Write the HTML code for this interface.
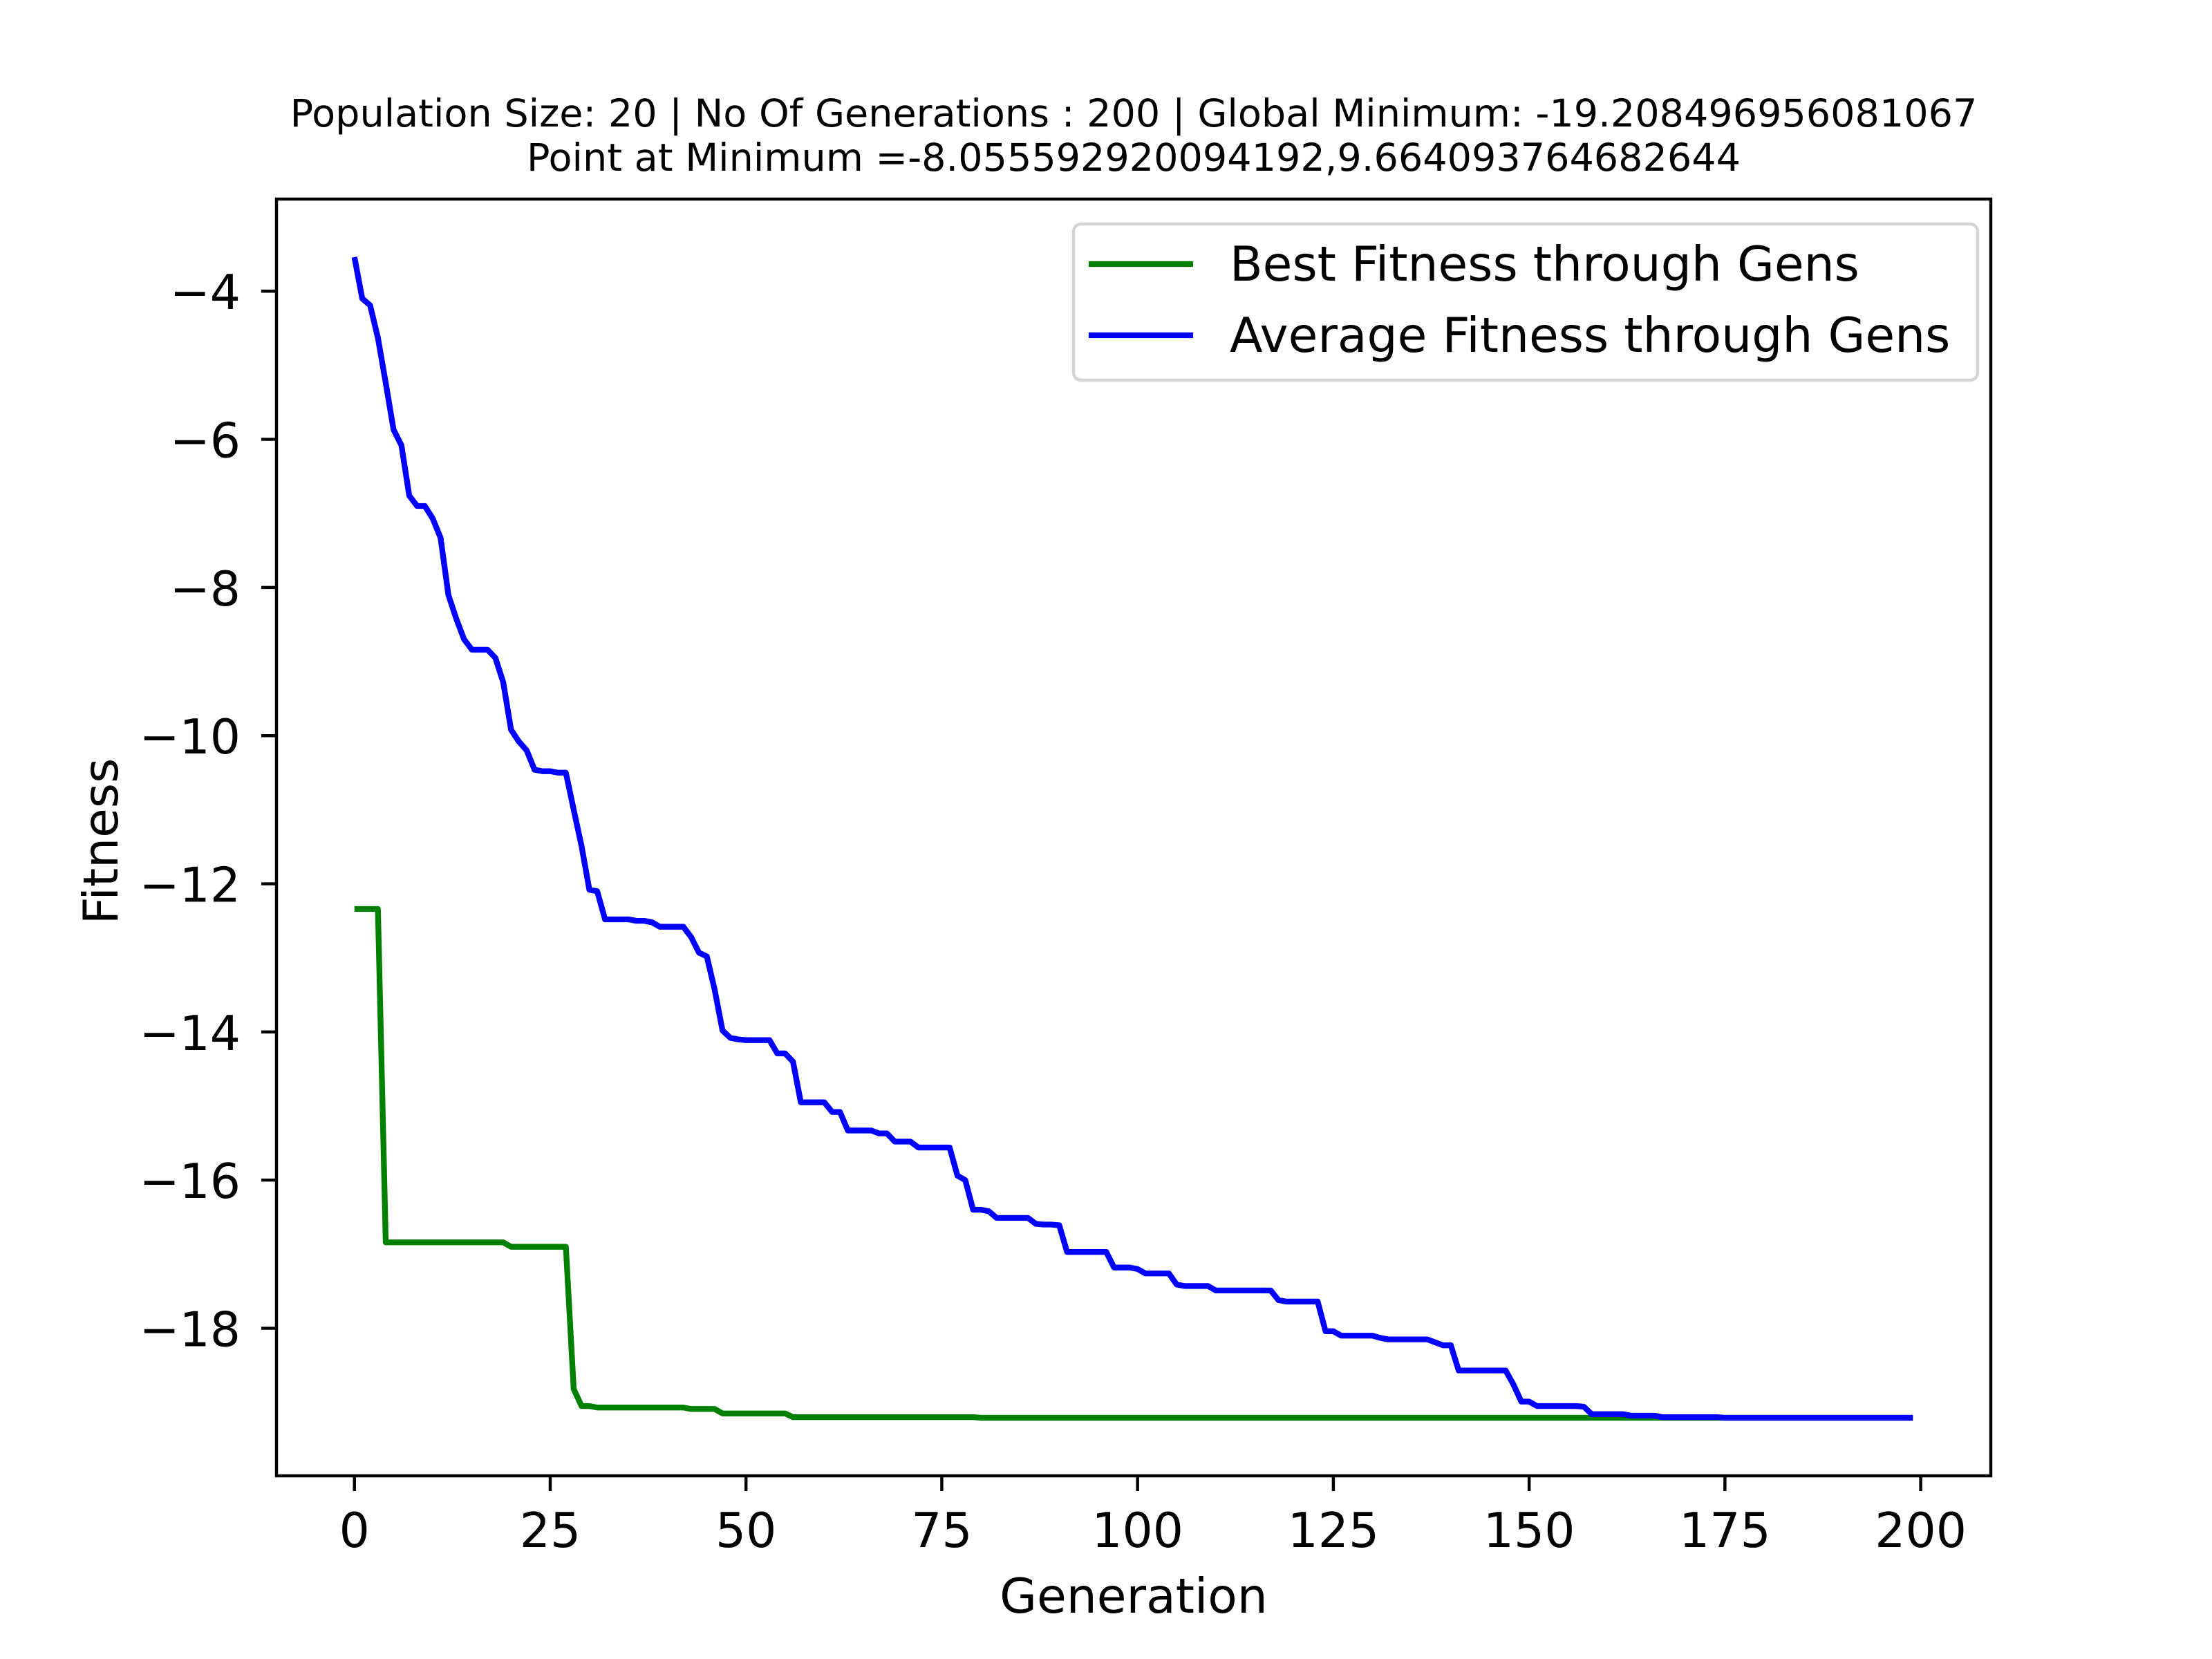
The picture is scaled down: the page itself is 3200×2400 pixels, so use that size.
<!DOCTYPE html>
<html><head><meta charset="utf-8"><style>
html,body{margin:0;padding:0;background:#fff}
svg{display:block;font-family:"DejaVu Sans","Liberation Sans",sans-serif}
</style></head><body>
<svg id="chart" width="3200" height="2400" viewBox="0 0 3200 2400" xmlns="http://www.w3.org/2000/svg">
<rect width="3200" height="2400" fill="#fff"/>
<text x="1640" y="183" font-size="55.6" text-anchor="middle">Population Size: 20 | No Of Generations : 200 | Global Minimum: -19.208496956081067</text>
<text x="1640" y="247" font-size="55.6" text-anchor="middle">Point at Minimum =-8.055592920094192,9.664093764682644</text>
<g id="plot"></g>
<rect x="400" y="288" width="2480" height="1847" fill="none" stroke="#000" stroke-width="4.44"/>
<g id="ticks"></g>
<text x="1640" y="2333" font-size="69.5" text-anchor="middle">Generation</text>
<text x="0" y="0" font-size="69.5" text-anchor="middle" transform="translate(170,1217) rotate(-90)">Fitness</text>
<g>
<rect x="1553" y="324" width="1308" height="226" rx="11" fill="#fff" fill-opacity="0.8" stroke="#d4d4d4" stroke-width="4.44"/>
<line x1="1575" y1="382" x2="1726" y2="382" stroke="#008000" stroke-width="8.33"/>
<text x="1779" y="406" font-size="69.5">Best Fitness through Gens</text>
<line x1="1575" y1="485" x2="1726" y2="485" stroke="#0000ff" stroke-width="8.33"/>
<text x="1779" y="509" font-size="69.5">Average Fitness through Gens</text>
</g>
</svg>
<script>
const avgFitness = [
-3.54,-4.1,-4.19,-4.63,-5.24,-5.87,-6.08,-6.76,-6.9,-6.9,
-7.07,-7.33,-8.1,-8.42,-8.7,-8.84,-8.84,-8.84,-8.95,-9.28,
-9.92,-10.08,-10.2,-10.46,-10.48,-10.48,-10.5,-10.5,-11.0,-11.49,
-12.08,-12.1,-12.48,-12.48,-12.48,-12.48,-12.5,-12.5,-12.52,-12.58,
-12.58,-12.58,-12.58,-12.72,-12.93,-12.98,-13.43,-13.98,-14.08,-14.1,
-14.11,-14.11,-14.11,-14.11,-14.29,-14.29,-14.4,-14.95,-14.95,-14.95,
-14.95,-15.08,-15.08,-15.33,-15.33,-15.33,-15.33,-15.37,-15.37,-15.48,
-15.48,-15.48,-15.56,-15.56,-15.56,-15.56,-15.56,-15.94,-16.0,-16.4,
-16.4,-16.42,-16.51,-16.51,-16.51,-16.51,-16.51,-16.59,-16.6,-16.6,
-16.61,-16.97,-16.97,-16.97,-16.97,-16.97,-16.97,-17.18,-17.18,-17.18,
-17.2,-17.26,-17.26,-17.26,-17.26,-17.41,-17.43,-17.43,-17.43,-17.43,
-17.49,-17.49,-17.49,-17.49,-17.49,-17.49,-17.49,-17.49,-17.62,-17.64,
-17.64,-17.64,-17.64,-17.64,-18.04,-18.04,-18.1,-18.1,-18.1,-18.1,
-18.1,-18.13,-18.15,-18.15,-18.15,-18.15,-18.15,-18.15,-18.19,-18.23,
-18.23,-18.57,-18.57,-18.57,-18.57,-18.57,-18.57,-18.57,-18.76,-18.99,
-18.99,-19.05,-19.05,-19.05,-19.05,-19.05,-19.05,-19.06,-19.16,-19.16,
-19.16,-19.16,-19.16,-19.18,-19.18,-19.18,-19.18,-19.2,-19.2,-19.2,
-19.2,-19.2,-19.2,-19.2,-19.2,-19.2085,-19.2085,-19.2085,-19.2085,-19.2085,
-19.2085,-19.2085,-19.2085,-19.2085,-19.2085,-19.2085,-19.2085,-19.2085,-19.2085,-19.2085,
-19.2085,-19.2085,-19.2085,-19.2085,-19.2085,-19.2085,-19.2085,-19.2085,-19.2085,-19.2085
];
const bestFitness = [
-12.34,-12.34,-12.34,-12.34,-16.84,-16.84,-16.84,-16.84,-16.84,-16.84,
-16.84,-16.84,-16.84,-16.84,-16.84,-16.84,-16.84,-16.84,-16.84,-16.84,
-16.9,-16.9,-16.9,-16.9,-16.9,-16.9,-16.9,-16.9,-18.82,-19.05,
-19.05,-19.07,-19.07,-19.07,-19.07,-19.07,-19.07,-19.07,-19.07,-19.07,
-19.07,-19.07,-19.07,-19.09,-19.09,-19.09,-19.09,-19.15,-19.15,-19.15,
-19.15,-19.15,-19.15,-19.15,-19.15,-19.15,-19.2,-19.2,-19.2,-19.2,
-19.2,-19.2,-19.2,-19.2,-19.2,-19.2,-19.2,-19.2,-19.2,-19.2,
-19.2,-19.2,-19.2,-19.2,-19.2,-19.2,-19.2,-19.2,-19.2,-19.2,
-19.2085,-19.2085,-19.2085,-19.2085,-19.2085,-19.2085,-19.2085,-19.2085,-19.2085,-19.2085,
-19.2085,-19.2085,-19.2085,-19.2085,-19.2085,-19.2085,-19.2085,-19.2085,-19.2085,-19.2085,
-19.2085,-19.2085,-19.2085,-19.2085,-19.2085,-19.2085,-19.2085,-19.2085,-19.2085,-19.2085,
-19.2085,-19.2085,-19.2085,-19.2085,-19.2085,-19.2085,-19.2085,-19.2085,-19.2085,-19.2085,
-19.2085,-19.2085,-19.2085,-19.2085,-19.2085,-19.2085,-19.2085,-19.2085,-19.2085,-19.2085,
-19.2085,-19.2085,-19.2085,-19.2085,-19.2085,-19.2085,-19.2085,-19.2085,-19.2085,-19.2085,
-19.2085,-19.2085,-19.2085,-19.2085,-19.2085,-19.2085,-19.2085,-19.2085,-19.2085,-19.2085,
-19.2085,-19.2085,-19.2085,-19.2085,-19.2085,-19.2085,-19.2085,-19.2085,-19.2085,-19.2085,
-19.2085,-19.2085,-19.2085,-19.2085,-19.2085,-19.2085,-19.2085,-19.2085,-19.2085,-19.2085,
-19.2085,-19.2085,-19.2085,-19.2085,-19.2085,-19.2085,-19.2085,-19.2085,-19.2085,-19.2085,
-19.2085,-19.2085,-19.2085,-19.2085,-19.2085,-19.2085,-19.2085,-19.2085,-19.2085,-19.2085,
-19.2085,-19.2085,-19.2085,-19.2085,-19.2085,-19.2085,-19.2085,-19.2085,-19.2085,-19.2085
];
const xTicks = [0,25,50,75,100,125,150,175,200];
const yTicks = [-4,-6,-8,-10,-12,-14,-16,-18];

const NS = 'http://www.w3.org/2000/svg';
const L = 400, R = 2880, T = 288, B = 2135;
const n = Math.max(avgFitness.length, bestFitness.length);
const xmin0 = 0, xmax0 = n - 1, xpad = (xmax0 - xmin0) * 0.05;
const xmin = xmin0 - xpad, xmax = xmax0 + xpad;
const all = avgFitness.concat(bestFitness);
const ymin0 = Math.min(...all), ymax0 = Math.max(...all), ypad = (ymax0 - ymin0) * 0.05;
const ymin = ymin0 - ypad, ymax = ymax0 + ypad;
function xs(v){ return L + (v - xmin) / (xmax - xmin) * (R - L); }
function ys(v){ return B - (v - ymin) / (ymax - ymin) * (B - T); }

const plot = document.getElementById('plot');
function series(arr, color, name){
  const p = document.createElementNS(NS, 'polyline');
  p.setAttribute('points', arr.map((v,i)=>xs(i).toFixed(2)+','+ys(v).toFixed(2)).join(' '));
  p.setAttribute('fill','none');
  p.setAttribute('stroke',color);
  p.setAttribute('stroke-width','8.33');
  p.setAttribute('stroke-linejoin','round');
  
  
  plot.appendChild(p);
}
series(bestFitness, '#008000', 'best-fitness-line');
series(avgFitness, '#0000ff', 'average-fitness-line');

const ticks = document.getElementById('ticks');
xTicks.forEach(t=>{
  const x = xs(t);
  const ln = document.createElementNS(NS,'line');
  ln.setAttribute('x1',x); ln.setAttribute('x2',x);
  ln.setAttribute('y1',B); ln.setAttribute('y2',B+22);
  ln.setAttribute('stroke','#000'); ln.setAttribute('stroke-width','4.44');
  
  
  ticks.appendChild(ln);
  const tx = document.createElementNS(NS,'text');
  tx.setAttribute('x',x); tx.setAttribute('y',B+103);
  tx.setAttribute('font-size','69.5'); tx.setAttribute('text-anchor','middle');
  tx.textContent = String(t);
  
  
  ticks.appendChild(tx);
});
yTicks.forEach(t=>{
  const y = ys(t);
  const ln = document.createElementNS(NS,'line');
  ln.setAttribute('x1',L-22); ln.setAttribute('x2',L);
  ln.setAttribute('y1',y); ln.setAttribute('y2',y);
  ln.setAttribute('stroke','#000'); ln.setAttribute('stroke-width','4.44');
  
  
  ticks.appendChild(ln);
  const tx = document.createElementNS(NS,'text');
  tx.setAttribute('x',L-52); tx.setAttribute('y',y+26);
  tx.setAttribute('font-size','69.5'); tx.setAttribute('text-anchor','end');
  tx.textContent = '\u2212' + String(Math.abs(t));
  
  
  ticks.appendChild(tx);
});
</script>
</body></html>
